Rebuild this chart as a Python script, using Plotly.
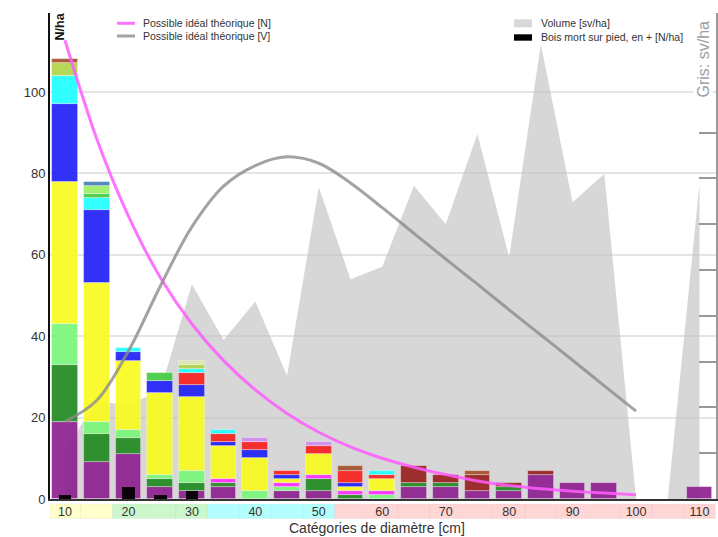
import plotly.graph_objects as go

# Diameter classes [cm]
categories = [10, 15, 20, 25, 30, 35, 40, 45, 50, 55, 60,
              65, 70, 75, 80, 85, 90, 95, 100, 105, 110]
tick_positions = [10, 20, 30, 40, 50, 60, 70, 80, 90, 100, 110]
tick_labels = ["10", "20", "30", "40", "50", "60", "70", "80", "90", "100", "110"]

# Stems per hectare by species group, stacked bottom to top
n_violet =      [19, 9, 11, 3, 2, 3, 0, 2, 2, 0, 0, 3, 3, 2, 2, 6, 4, 4, 0, 0, 3]
n_vert_fonce =  [14, 7, 4, 2, 2, 1, 0, 0, 3, 1, 0, 1, 1, 0, 1, 0, 0, 0, 0, 0, 0]
n_vert_clair =  [10, 3, 2, 1, 3, 0, 2, 1, 0, 0, 1, 0, 0, 0, 0, 0, 0, 0, 0, 0, 0]
n_magenta =     [0, 0, 0, 0, 0, 1, 0, 1, 1, 1, 1, 0, 0, 0, 0, 0, 0, 0, 0, 0, 0]
n_jaune =       [35, 34, 17, 20, 18, 8, 8, 1, 5, 1, 3, 0, 0, 0, 0, 0, 0, 0, 0, 0, 0]
n_bleu =        [19, 18, 2, 3, 3, 1, 2, 1, 0, 1, 0, 0, 0, 0, 0, 0, 0, 0, 0, 0, 0]
n_rouge =       [0, 0, 0, 0, 3, 2, 2, 1, 2, 3, 1, 0, 0, 0, 0, 0, 0, 0, 0, 0, 0]
n_cyan =        [7, 3, 1, 0, 1, 1, 0, 0, 0, 0, 1, 0, 0, 0, 0, 0, 0, 0, 0, 0, 0]
n_vert_moyen =  [0, 1, 0, 2, 0, 0, 0, 0, 0, 0, 0, 0, 0, 0, 0, 0, 0, 0, 0, 0, 0]
n_vert_pomme =  [0, 2, 0, 0, 0, 0, 0, 0, 0, 0, 0, 0, 0, 0, 0, 0, 0, 0, 0, 0, 0]
n_vert_jaune =  [3, 0, 0, 0, 1, 0, 0, 0, 0, 0, 0, 0, 0, 0, 0, 0, 0, 0, 0, 0, 0]
n_pale =        [0, 0, 0, 0, 1, 0, 0, 0, 0, 0, 0, 0, 0, 0, 0, 0, 0, 0, 0, 0, 0]
n_lilas =       [0, 0, 0, 0, 0, 0, 1, 0, 1, 0, 0, 0, 0, 0, 0, 0, 0, 0, 0, 0, 0]
n_acier =       [0, 1, 0, 0, 0, 0, 0, 0, 0, 0, 0, 0, 0, 0, 0, 0, 0, 0, 0, 0, 0]
n_bordeaux =    [0, 0, 0, 0, 0, 0, 0, 0, 0, 0, 0, 4, 2, 4, 1, 1, 0, 0, 0, 0, 0]
n_brun =        [1, 0, 0, 0, 0, 0, 0, 0, 0, 1, 0, 0, 0, 1, 0, 0, 0, 0, 0, 0, 0]

species = [
    ("violet", n_violet, "#8e2290"),
    ("vert foncé", n_vert_fonce, "#228b22"),
    ("vert clair", n_vert_clair, "#7af77a"),
    ("magenta", n_magenta, "#ff30ff"),
    ("jaune", n_jaune, "#fafa22"),
    ("bleu", n_bleu, "#2222f8"),
    ("rouge", n_rouge, "#f82222"),
    ("cyan", n_cyan, "#22ffff"),
    ("vert moyen", n_vert_moyen, "#44cc44"),
    ("vert pomme", n_vert_pomme, "#99ee66"),
    ("vert jaune", n_vert_jaune, "#b2d44c"),
    ("pâle", n_pale, "#dde9aa"),
    ("lilas", n_lilas, "#d08cf0"),
    ("acier", n_acier, "#4682b4"),
    ("bordeaux", n_bordeaux, "#9a2222"),
    ("brun", n_brun, "#a5522d"),
]

# Standing dead wood, in addition [N/ha]
dead_standing = [1, 0, 3, 1, 2, 0, 0, 0, 0, 0, 0, 0, 0, 0, 0, 0, 0, 0, 0, 0, 0]

# Volume per class [sv/ha]
volume = [10.9, 21.2, 20.7, 23.5, 46.9, 34.7, 43.1, 26.9, 68.1, 48.0, 50.7,
          68.4, 60.0, 79.7, 52.8, 99.3, 64.8, 71.0, 0.0, 0.0, 68.8]

# Theoretical ideal curves (classes 10 to 100)
ideal_categories = [10, 15, 20, 25, 30, 35, 40, 45, 50, 55,
                    60, 65, 70, 75, 80, 85, 90, 95, 100]
ideal_n = [112.7, 88.5, 69.5, 54.5, 43.0, 34.0, 26.8, 21.0, 16.4, 12.8,
           10.0, 7.8, 6.0, 4.4, 3.3, 2.5, 1.9, 1.45, 1.05]
ideal_v = [16.9, 21.5, 32.3, 46.4, 59.4, 68.3, 72.8, 74.7, 73.3, 69.0,
           63.6, 58.0, 52.4, 46.9, 41.3, 35.8, 30.3, 24.7, 19.2]

# Colour band under the axis, one cell per class
band_colors = ["#ffffcc", "#ffffcc",
               "#ccf7cc", "#ccf7cc", "#ccf7cc",
               "#b3ffff", "#b3ffff", "#b3ffff", "#b3ffff",
               "#ffd6d6", "#ffd6d6", "#ffd6d6", "#ffd6d6", "#ffd6d6", "#ffd6d6",
               "#ffd6d6", "#ffd6d6", "#ffd6d6", "#ffd6d6", "#ffd6d6", "#ffd6d6"]

X_RANGE = [7.64, 112.6]
N_RANGE = [0, 119.4]
V_RANGE = [0, 106.1]
V_TICKS = [0, 10, 20, 30, 40, 50, 60, 70, 80]
N_TICKS = [0, 20, 40, 60, 80, 100]

FONT = "Arial, Liberation Sans, Helvetica, sans-serif"
W, H = 718, 537
ML, MR, MT, MB = 50, 2, 13, 38
PW, PH = W - ML - MR, H - MT - MB


def px(x):
    return (x - ML) / PW


def py(y):
    return (H - MB - y) / PH


fig = go.Figure()

# Volume area (behind the bars)
fig.add_trace(go.Scatter(
    x=categories, y=volume, mode="lines", fill="tozeroy",
    line=dict(width=0, color="rgba(0,0,0,0)"),
    fillcolor="rgba(196,196,196,0.68)",
    yaxis="y", showlegend=False, hoverinfo="skip", name="Volume [sv/ha]"))

# Stacked species bars
base = [0.0] * len(categories)
for name, vals, color in species:
    fig.add_trace(go.Bar(
        x=categories, y=[v if v > 0 else None for v in vals], base=base[:],
        width=4.05, yaxis="y2", name=name, showlegend=False,
        marker=dict(color=color, opacity=0.93,
                    line=dict(color="rgba(255,255,255,0.45)", width=0.8))))
    base = [b + v for b, v in zip(base, vals)]

# Standing dead wood
fig.add_trace(go.Bar(
    x=categories, y=[v if v > 0 else None for v in dead_standing], base=0,
    width=2.0, yaxis="y2", name="Bois mort sur pied, en + [N/ha]",
    showlegend=False, marker=dict(color="#0d000b", line=dict(width=0))))

# Ideal stem curve
fig.add_trace(go.Scatter(
    x=ideal_categories, y=ideal_n, mode="lines", yaxis="y2",
    line=dict(color="rgba(255,92,255,0.85)", width=3, shape="spline", smoothing=0.8),
    showlegend=False, name="Possible idéal théorique [N]"))

# Ideal volume curve
fig.add_trace(go.Scatter(
    x=ideal_categories, y=ideal_v, mode="lines", yaxis="y3",
    line=dict(color="rgba(140,140,140,0.8)", width=3, shape="spline", smoothing=1.0),
    showlegend=False, name="Possible idéal théorique [V]"))

shapes = []
# Class colour band
for c, col in zip(categories, band_colors):
    x0 = max(c - 2.5, X_RANGE[0])
    x1 = min(c + 2.5, X_RANGE[1])
    shapes.append(dict(type="rect", xref="x", yref="paper", x0=x0, x1=x1,
                       y0=py(504), y1=py(518.5), fillcolor=col,
                       line=dict(color="rgba(0,0,0,0.035)", width=1), layer="below"))

# Legend swatches
shapes += [
    dict(type="line", xref="paper", yref="paper", x0=px(117), x1=px(135),
         y0=py(23.3), y1=py(23.3), line=dict(color="rgba(255,92,255,0.85)", width=3)),
    dict(type="line", xref="paper", yref="paper", x0=px(117), x1=px(135),
         y0=py(36), y1=py(36), line=dict(color="rgba(140,140,140,0.8)", width=3)),
    dict(type="rect", xref="paper", yref="paper", x0=px(514), x1=px(532),
         y0=py(27.3), y1=py(19.3), fillcolor="#d8d8d8", line=dict(width=0)),
    dict(type="rect", xref="paper", yref="paper", x0=px(514), x1=px(532),
         y0=py(40.7), y1=py(34.3), fillcolor="#000000", line=dict(width=0)),
]

legend_font = dict(family=FONT, size=10.5, color="#333333")
annotations = [
    dict(text="Possible idéal théorique [N]", x=px(141), y=py(23.3), xref="paper",
         yref="paper", xanchor="left", yanchor="middle", showarrow=False, font=legend_font),
    dict(text="Possible idéal théorique [V]", x=px(141), y=py(36), xref="paper",
         yref="paper", xanchor="left", yanchor="middle", showarrow=False, font=legend_font),
    dict(text="Volume [sv/ha]", x=px(538.5), y=py(23.3), xref="paper",
         yref="paper", xanchor="left", yanchor="middle", showarrow=False, font=legend_font),
    dict(text="Bois mort sur pied, en + [N/ha]", x=px(538.5), y=py(37.5), xref="paper",
         yref="paper", xanchor="left", yanchor="middle", showarrow=False, font=legend_font),
    dict(text="<b>N/ha</b>", textangle=-90, x=px(59), y=py(26.5), xref="paper",
         yref="paper", xanchor="center", yanchor="middle", showarrow=False,
         font=dict(family=FONT, size=12.5, color="#111111")),
    dict(text="Gris: sv/ha", textangle=-90, x=px(702.5), y=py(59), xref="paper",
         yref="paper", xanchor="center", yanchor="middle", showarrow=False,
         bgcolor="#ffffff", font=dict(family=FONT, size=16, color="#a0a0a0")),
    dict(text="Catégories de diamètre [cm]", x=px(377), y=py(527.5), xref="paper",
         yref="paper", xanchor="center", yanchor="middle", showarrow=False,
         font=dict(family=FONT, size=14, color="#333333")),
]

fig.update_layout(
    width=W, height=H,
    margin=dict(l=ML, r=MR, t=MT, b=MB),
    paper_bgcolor="white", plot_bgcolor="white",
    barmode="overlay", bargap=0,
    font=dict(family=FONT, color="#333333"),
    shapes=shapes, annotations=annotations,
    xaxis=dict(range=X_RANGE, tickvals=tick_positions, ticktext=tick_labels,
               ticks="", showgrid=False, zeroline=False, showline=True,
               linecolor="#333333", linewidth=2,
               tickfont=dict(family=FONT, size=12.5, color="#333333")),
    yaxis=dict(range=V_RANGE, side="right", showgrid=False, zeroline=False,
               showline=True, linecolor="#999999", linewidth=1.5,
               ticks="inside", ticklen=17, tickwidth=1.5, tickcolor="#999999",
               tickvals=V_TICKS, showticklabels=False),
    yaxis2=dict(range=N_RANGE, overlaying="y", side="left", showgrid=True,
                gridcolor="#e4e4e4", gridwidth=1.5, zeroline=False,
                showline=True, linecolor="#111111", linewidth=2, ticks="",
                tickvals=N_TICKS,
                tickfont=dict(family=FONT, size=13, color="#333333")),
    yaxis3=dict(range=V_RANGE, overlaying="y", visible=False),
)

fig.write_html("out.html")
